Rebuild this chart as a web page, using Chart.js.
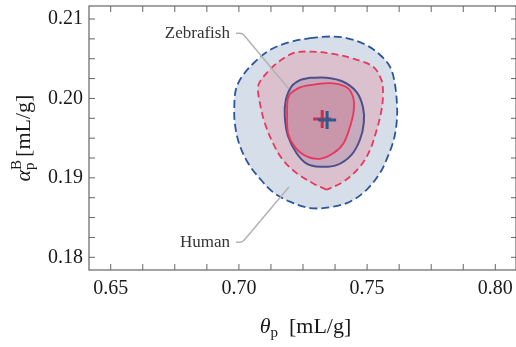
<!DOCTYPE html>
<html>
<head>
<meta charset="utf-8">
<script src="https://cdn.jsdelivr.net/npm/chart.js@4.4.1/dist/chart.umd.min.js"></script>
<style>
  html, body { margin: 0; padding: 0; background: #fff; overflow: hidden; }
  canvas { display: block; }
</style>
</head>
<body>
<canvas id="contourChart" width="516" height="347"></canvas>
<script>
// ======= Axis ticks =======
const xTicks = [0.65, 0.6625, 0.675, 0.6875, 0.70, 0.7125, 0.725, 0.7375, 0.75, 0.7625, 0.775, 0.7875, 0.80];
const xLabels = [0.65, 0.70, 0.75, 0.80];
const yTicks = [0.18, 0.1825, 0.185, 0.1875, 0.19, 0.1925, 0.195, 0.1975, 0.20, 0.2025, 0.205, 0.2075, 0.21];
const yLabels = [0.18, 0.19, 0.20, 0.21];

// ======= Contours (theta_p, alpha_p^B) =======
// Human, wide region (dashed)
const humanOuterTheta = [0.7277, 0.7355, 0.7420, 0.7498, 0.7550, 0.7589, 0.7608, 0.7617, 0.7615, 0.7604, 0.7581, 0.7550, 0.7498, 0.7433, 0.7355, 0.7277, 0.7199, 0.7133, 0.7082, 0.7035, 0.7000, 0.6984, 0.6982, 0.6988, 0.7011, 0.7056, 0.7121, 0.7199];
const humanOuterAlpha = [0.2076, 0.2078, 0.2076, 0.2067, 0.2055, 0.2040, 0.2019, 0.1989, 0.1969, 0.1948, 0.1927, 0.1906, 0.1885, 0.1870, 0.1863, 0.1862, 0.1870, 0.1882, 0.1899, 0.1919, 0.1944, 0.1969, 0.1989, 0.2011, 0.2027, 0.2044, 0.2061, 0.2071];
// Zebrafish, wide region (dashed)
const zebraOuterTheta = [0.7342, 0.7290, 0.7225, 0.7173, 0.7134, 0.7101, 0.7082, 0.7075, 0.7095, 0.7147, 0.7212, 0.7277, 0.7368, 0.7445, 0.7523, 0.7556, 0.7562, 0.7556, 0.7537, 0.7511, 0.7472, 0.7407];
const zebraOuterAlpha = [0.1885, 0.1893, 0.1906, 0.1922, 0.1943, 0.1969, 0.1994, 0.2015, 0.2027, 0.2044, 0.2057, 0.2059, 0.2056, 0.2050, 0.2040, 0.2023, 0.2006, 0.1985, 0.1960, 0.1935, 0.1914, 0.1895];
// Human, narrow region (solid)
const humanInnerTheta = [0.7277, 0.7342, 0.7407, 0.7459, 0.7484, 0.7487, 0.7472, 0.7439, 0.7381, 0.7316, 0.7264, 0.7225, 0.7192, 0.7179, 0.7183, 0.7205, 0.7238];
const humanInnerAlpha = [0.2026, 0.2026, 0.2021, 0.2008, 0.1989, 0.1969, 0.1948, 0.1929, 0.1916, 0.1914, 0.1918, 0.1931, 0.1952, 0.1977, 0.1998, 0.2015, 0.2023];
// Zebrafish, narrow region (solid)
const zebraInnerTheta = [0.7199, 0.7238, 0.7303, 0.7368, 0.7420, 0.7445, 0.7448, 0.7433, 0.7407, 0.7368, 0.7316, 0.7264, 0.7218, 0.7192, 0.7188, 0.7190];
const zebraInnerAlpha = [0.2006, 0.2014, 0.2018, 0.2019, 0.2014, 0.2002, 0.1985, 0.1964, 0.1943, 0.1931, 0.1924, 0.1927, 0.1939, 0.1956, 0.1981, 0.1998];

// Best fit points
const humanBest = [0.7344, 0.1973];
const zebraBest = [0.7325, 0.1974];

// Callout labels: text anchor, line start, corner, end
const calloutNames = ["Zebrafish", "Human"];
const calloutTheta = [[0.6965, 0.6989, 0.7014, 0.7195], [0.6965, 0.6989, 0.7014, 0.7195]];
const calloutAlpha = [[0.2082, 0.2082, 0.2082, 0.2012], [0.1819, 0.1819, 0.1819, 0.18885]];

const SERIF = "'Liberation Serif', 'DejaVu Serif', serif";

function closedLoop(xs, ys) {
  const pts = xs.map((x, i) => ({ x: x, y: ys[i] }));
  pts.push(pts[0]);
  return pts;
}

function contour(xs, ys, line, fillColor, dash, width) {
  return {
    data: closedLoop(xs, ys),
    showLine: true,
    borderColor: line,
    backgroundColor: fillColor,
    borderWidth: width,
    borderDash: dash,
    fill: "shape",
    tension: 0.35,
    pointRadius: 0
  };
}

function cross(pt, color) {
  return {
    data: [{ x: pt[0], y: pt[1] }],
    showLine: false,
    pointStyle: "cross",
    pointRadius: 9,
    pointBorderWidth: 3,
    borderColor: color,
    backgroundColor: color
  };
}

// draw text pieces one after another
function drawPieces(ctx, pieces, x, y) {
  let cx = x;
  pieces.forEach(p => {
    ctx.font = p.font;
    ctx.fillText(p.text, cx, y + (p.dy || 0));
    if (!p.noAdvance) cx += ctx.measureText(p.text).width;
  });
}
function piecesWidth(ctx, pieces) {
  let w = 0;
  pieces.forEach(p => { ctx.font = p.font; if (!p.noAdvance) w += ctx.measureText(p.text).width; });
  return w;
}

// keep the plot box exactly where the axes put it
function noPad(s) {
  s.paddingLeft = 0; s.paddingRight = 0; s.paddingTop = 0; s.paddingBottom = 0;
}

const framePlugin = {
  id: "frame",
  afterDraw(chart) {
    const ctx = chart.ctx;
    const a = chart.chartArea;
    const xs = chart.scales.x, ys = chart.scales.y;
    ctx.save();

    // callout lines + labels
    ctx.strokeStyle = "#b3b3b3";
    ctx.lineWidth = 1.5;
    calloutNames.forEach((name, i) => {
      const px = calloutTheta[i].map(v => xs.getPixelForValue(v));
      const py = calloutAlpha[i].map(v => ys.getPixelForValue(v));
      ctx.beginPath();
      ctx.moveTo(px[1], py[1]);
      ctx.arcTo(px[2], py[2], px[3], py[3], 6);
      ctx.lineTo(px[3], py[3]);
      ctx.stroke();
      ctx.fillStyle = "#333";
      ctx.font = "17px " + SERIF;
      ctx.textAlign = "right";
      ctx.textBaseline = "middle";
      ctx.fillText(name, px[0], py[0]);
    });

    // frame
    ctx.strokeStyle = "#666";
    ctx.lineWidth = 1.2;
    ctx.strokeRect(a.left, a.top, a.right - a.left, a.bottom - a.top);

    // inward ticks
    ctx.lineWidth = 1;
    ctx.beginPath();
    xTicks.forEach(v => {
      const p = xs.getPixelForValue(v);
      ctx.moveTo(p, a.bottom); ctx.lineTo(p, a.bottom - 6);
      ctx.moveTo(p, a.top); ctx.lineTo(p, a.top + 6);
    });
    yTicks.forEach(v => {
      const p = ys.getPixelForValue(v);
      ctx.moveTo(a.left, p); ctx.lineTo(a.left + 6, p);
      ctx.moveTo(a.right, p); ctx.lineTo(a.right - 5, p);
    });
    ctx.stroke();

    // axis titles
    ctx.fillStyle = "#1a1a1a";
    ctx.textAlign = "left";
    ctx.textBaseline = "alphabetic";
    const xTitle = [
      { text: "θ", font: "italic 22px " + SERIF },
      { text: "p", font: "15px " + SERIF, dy: 4 },
      { text: "  [mL/g]", font: "22px " + SERIF }
    ];
    const wx = piecesWidth(ctx, xTitle);
    drawPieces(ctx, xTitle, 305.5 - wx / 2, 333);

    const yTitle = [
      { text: "α", font: "italic 22px " + SERIF },
      { text: "B", font: "15px " + SERIF, dy: -9, noAdvance: true },
      { text: "p", font: "15px " + SERIF, dy: 4 },
      { text: " [mL/g]", font: "22px " + SERIF }
    ];
    const wy = piecesWidth(ctx, yTitle);
    ctx.translate(30, (a.top + a.bottom) / 2 + wy / 2);
    ctx.rotate(-Math.PI / 2);
    drawPieces(ctx, yTitle, 0, 0);
    ctx.restore();
  }
};

function onList(list, v) {
  return list.some(l => Math.abs(l - v) < 1e-6);
}

new Chart(document.getElementById("contourChart"), {
  type: "scatter",
  data: {
    datasets: [
      cross(humanBest, "#2e5a8c"),
      cross(zebraBest, "#c8304f"),
      contour(zebraInnerTheta, zebraInnerAlpha, "#e8365e", "#c996aa", [], 1.8),
      contour(humanInnerTheta, humanInnerAlpha, "#4c4f8a", "#c6aabe", [], 2),
      contour(zebraOuterTheta, zebraOuterAlpha, "#e6395f", "#dbc1cd", [7, 4], 1.8),
      contour(humanOuterTheta, humanOuterAlpha, "#2b5797", "#d5dee9", [8, 4], 1.8)
    ]
  },
  options: {
    responsive: false,
    animation: false,
    layout: { autoPadding: false, padding: { top: 6, left: 0, right: 0, bottom: 0 } },
    plugins: { legend: { display: false }, tooltip: { enabled: false } },
    scales: {
      x: {
        type: "linear",
        min: 0.64154,
        max: 0.80807,
        grid: { display: false, drawTicks: false },
        border: { display: false },
        afterBuildTicks: s => { s.ticks = xTicks.map(v => ({ value: v })); },
        afterFit: s => { s.height = 77; noPad(s); },
        ticks: {
          autoSkip: false,
          maxRotation: 0,
          padding: 7,
          color: "#1a1a1a",
          font: { family: SERIF, size: 20 },
          callback: v => onList(xLabels, v) ? v.toFixed(2) : ""
        }
      },
      y: {
        type: "linear",
        min: 0.178401,
        max: 0.211637,
        grid: { display: false, drawTicks: false },
        border: { display: false },
        afterBuildTicks: s => { s.ticks = yTicks.map(v => ({ value: v })); },
        afterFit: s => { s.width = 89; noPad(s); },
        ticks: {
          autoSkip: false,
          padding: 6,
          color: "#1a1a1a",
          font: { family: SERIF, size: 20 },
          callback: v => onList(yLabels, v) ? v.toFixed(2) : ""
        }
      }
    }
  },
  plugins: [framePlugin]
});
</script>
</body>
</html>
